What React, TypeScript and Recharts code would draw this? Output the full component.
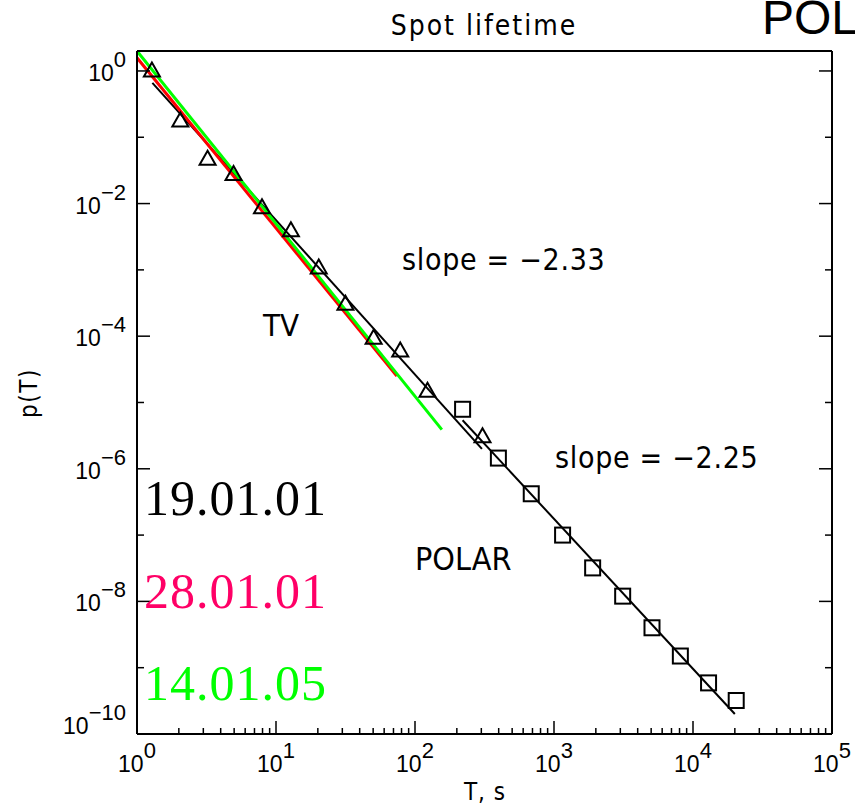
import { ComposedChart, XAxis, YAxis, Scatter, Line } from "recharts";

// TV measurements (triangles)
const tvT = [1.28, 2.05, 3.22, 4.95, 7.93, 12.8, 20.3, 31.6, 50.4, 78.3, 123, 306];
const tvP = [1.05, 0.185, 0.049, 0.029, 0.0091, 0.0041, 0.00112, 3.2e-4, 9.8e-5, 6.3e-5, 1.55e-5, 3.2e-6];

// POLAR measurements (squares)
const polarT = [220, 398, 686, 1153, 1897, 3119, 5070, 8110, 12940, 20460];
const polarP = [7.9e-6, 1.45e-6, 4.2e-7, 1.0e-7, 3.2e-8, 1.2e-8, 4.0e-9, 1.5e-9, 5.9e-10, 3.2e-10];

// fitted lines, end points
const fitTvT = [1.29, 303];
const fitTvP = [0.66, 2.0e-6];
const fitPolarT = [220, 20000];
const fitPolarP = [5.4e-6, 2.0e-10];
const redT = [1, 74];
const redP = [1.58, 2.5e-5];
const greenT = [1, 156];
const greenP = [2.0, 3.9e-6];

const xMajor = [1, 10, 100, 1000, 10000, 100000];
const yTicks = [1e-10, 1e-9, 1e-8, 1e-7, 1e-6, 1e-5, 1e-4, 1e-3, 1e-2, 1e-1, 1];
const yLabelled = [0, -2, -4, -6, -8, -10];

const xTicks: number[] = [];
xMajor.forEach((d, i) => {
  xTicks.push(d);
  if (i < xMajor.length - 1) for (let m = 2; m <= 9; m++) xTicks.push(m * d);
});

const pts = (ts: number[], ps: number[]) => ts.map((T, i) => ({ T, p: ps[i] }));

const hershey = "'Liberation Sans Narrow', 'DejaVu Sans Condensed', sans-serif";
const tickFont = "'Liberation Sans', Arial, sans-serif";
const serif = "'Liberation Serif', 'Times New Roman', serif";

const expOf = (v: number) => Math.round(Math.log10(v));
const isMajor = (v: number) => Math.abs(Math.log10(v) - expOf(v)) < 1e-6;
const fmtExp = (e: number) => (e < 0 ? "\u2212" + Math.abs(e) : String(e));

function BottomTick(props: any) {
  const { x, y, payload } = props;
  const v = payload.value;
  const major = isMajor(v);
  return (
    <g>
      <line x1={x} y1={y} x2={x} y2={y - (major ? 13 : 6)} stroke="#000" strokeWidth={1.5} />
      {major && (
        <text x={x} y={y + 38} textAnchor="middle" fontFamily={tickFont} fontSize={23} fill="#000">
          <tspan>10</tspan>
          <tspan dy={-14} fontSize={22}>{fmtExp(expOf(v))}</tspan>
        </text>
      )}
    </g>
  );
}

function TopTick(props: any) {
  const { x, y, payload } = props;
  const major = isMajor(payload.value);
  return <line x1={x} y1={y} x2={x} y2={y + (major ? 13 : 6)} stroke="#000" strokeWidth={1.5} />;
}

function LeftTick(props: any) {
  const { x, y, payload } = props;
  const e = expOf(payload.value);
  const labelled = yLabelled.includes(e);
  const dy = e === -10 ? 0 : 10;
  return (
    <g>
      <line x1={x} y1={y} x2={x + (labelled ? 13 : 7)} y2={y} stroke="#000" strokeWidth={1.5} />
      {labelled && (
        <text x={x - 11} y={y + dy} textAnchor="end" fontFamily={tickFont} fontSize={23} fill="#000">
          <tspan>10</tspan>
          <tspan dy={-14} fontSize={22}>{fmtExp(e)}</tspan>
        </text>
      )}
    </g>
  );
}

function RightTick(props: any) {
  const { x, y, payload } = props;
  const labelled = yLabelled.includes(expOf(payload.value));
  return <line x1={x} y1={y} x2={x - (labelled ? 13 : 7)} y2={y} stroke="#000" strokeWidth={1.5} />;
}

function Triangle(props: any) {
  const { cx, cy } = props;
  return (
    <polygon
      points={`${cx},${cy - 7} ${cx - 8},${cy + 7} ${cx + 8},${cy + 7}`}
      fill="none"
      stroke="#000"
      strokeWidth={2}
    />
  );
}

function Square(props: any) {
  const { cx, cy } = props;
  return <rect x={cx - 7.5} y={cy - 7.5} width={15} height={15} fill="none" stroke="#000" strokeWidth={2} />;
}

export default function App() {
  const axisLine = { stroke: "#000", strokeWidth: 2 };
  return (
    <div style={{ position: "absolute", left: 0, top: 0, width: 855, height: 811, background: "#fff" }}>
      <ComposedChart width={855} height={811} margin={{ top: 0, right: 0, bottom: 0, left: 0 }}>
        <XAxis
          xAxisId={0}
          dataKey="T"
          type="number"
          scale="log"
          domain={[1, 100000]}
          allowDataOverflow
          ticks={xTicks}
          interval={0}
          height={77}
          axisLine={axisLine}
          tickLine={false}
          tickSize={0}
          tickMargin={0}
          tick={<BottomTick />}
        />
        <XAxis
          xAxisId="top"
          orientation="top"
          type="number"
          scale="log"
          domain={[1, 100000]}
          allowDataOverflow
          ticks={xTicks}
          interval={0}
          height={51}
          axisLine={axisLine}
          tickLine={false}
          tickSize={0}
          tickMargin={0}
          tick={<TopTick />}
        />
        <YAxis
          yAxisId={0}
          dataKey="p"
          type="number"
          scale="log"
          domain={[1e-10, 2]}
          allowDataOverflow
          ticks={yTicks}
          interval={0}
          width={137}
          axisLine={axisLine}
          tickLine={false}
          tickSize={0}
          tickMargin={0}
          tick={<LeftTick />}
        />
        <YAxis
          yAxisId="right"
          orientation="right"
          type="number"
          scale="log"
          domain={[1e-10, 2]}
          allowDataOverflow
          ticks={yTicks}
          interval={0}
          width={23}
          axisLine={axisLine}
          tickLine={false}
          tickSize={0}
          tickMargin={0}
          tick={<RightTick />}
        />
        <Line data={pts(fitTvT, fitTvP)} dataKey="p" stroke="#000" strokeWidth={2} dot={false} isAnimationActive={false} />
        <Line data={pts(fitPolarT, fitPolarP)} dataKey="p" stroke="#000" strokeWidth={2} dot={false} isAnimationActive={false} />
        <Line data={pts(redT, redP)} dataKey="p" stroke="#ff0000" strokeWidth={3} dot={false} isAnimationActive={false} />
        <Line data={pts(greenT, greenP)} dataKey="p" stroke="#00ff00" strokeWidth={3} dot={false} isAnimationActive={false} />
        <Scatter data={pts(tvT, tvP)} dataKey="p" shape={<Triangle />} isAnimationActive={false} />
        <Scatter data={pts(polarT, polarP)} dataKey="p" shape={<Square />} isAnimationActive={false} />
      </ComposedChart>
      <svg width={855} height={811} style={{ position: "absolute", left: 0, top: 0, pointerEvents: "none" }}>
        <text x={484} y={35} textAnchor="middle" fontFamily={hershey} fontSize={28} letterSpacing={2} fill="#000">
          Spot lifetime
        </text>
        <text x={762} y={34} fontFamily="'Liberation Sans', Arial, sans-serif" fontSize={48} fill="#000">
          POLAR
        </text>
        <text x={37} y={393} textAnchor="middle" transform="rotate(-90 37 393)" fontFamily={hershey} fontSize={24} letterSpacing={1.5} fill="#000">
          p(T)
        </text>
        <text x={485} y={800} textAnchor="middle" fontFamily={hershey} fontSize={24} letterSpacing={1} fill="#000">
          T, s
        </text>
        <text x={402} y={270} fontFamily={hershey} fontSize={30} letterSpacing={0.7} fill="#000">
          slope = {"\u2212"}2.33
        </text>
        <text x={555} y={468} fontFamily={hershey} fontSize={30} letterSpacing={0.7} fill="#000">
          slope = {"\u2212"}2.25
        </text>
        <text x={263} y={336} fontFamily={hershey} fontSize={31} fill="#000">
          TV
        </text>
        <text x={415} y={570} fontFamily={hershey} fontSize={32} fill="#000">
          POLAR
        </text>
        <text x={144} y={515} fontFamily={serif} fontSize={50} letterSpacing={1} fill="#000">
          19.01.01
        </text>
        <text x={144} y={608} fontFamily={serif} fontSize={50} letterSpacing={1} fill="#ff0066">
          28.01.01
        </text>
        <text x={144} y={700} fontFamily={serif} fontSize={50} letterSpacing={1} fill="#00ff00">
          14.01.05
        </text>
      </svg>
    </div>
  );
}
